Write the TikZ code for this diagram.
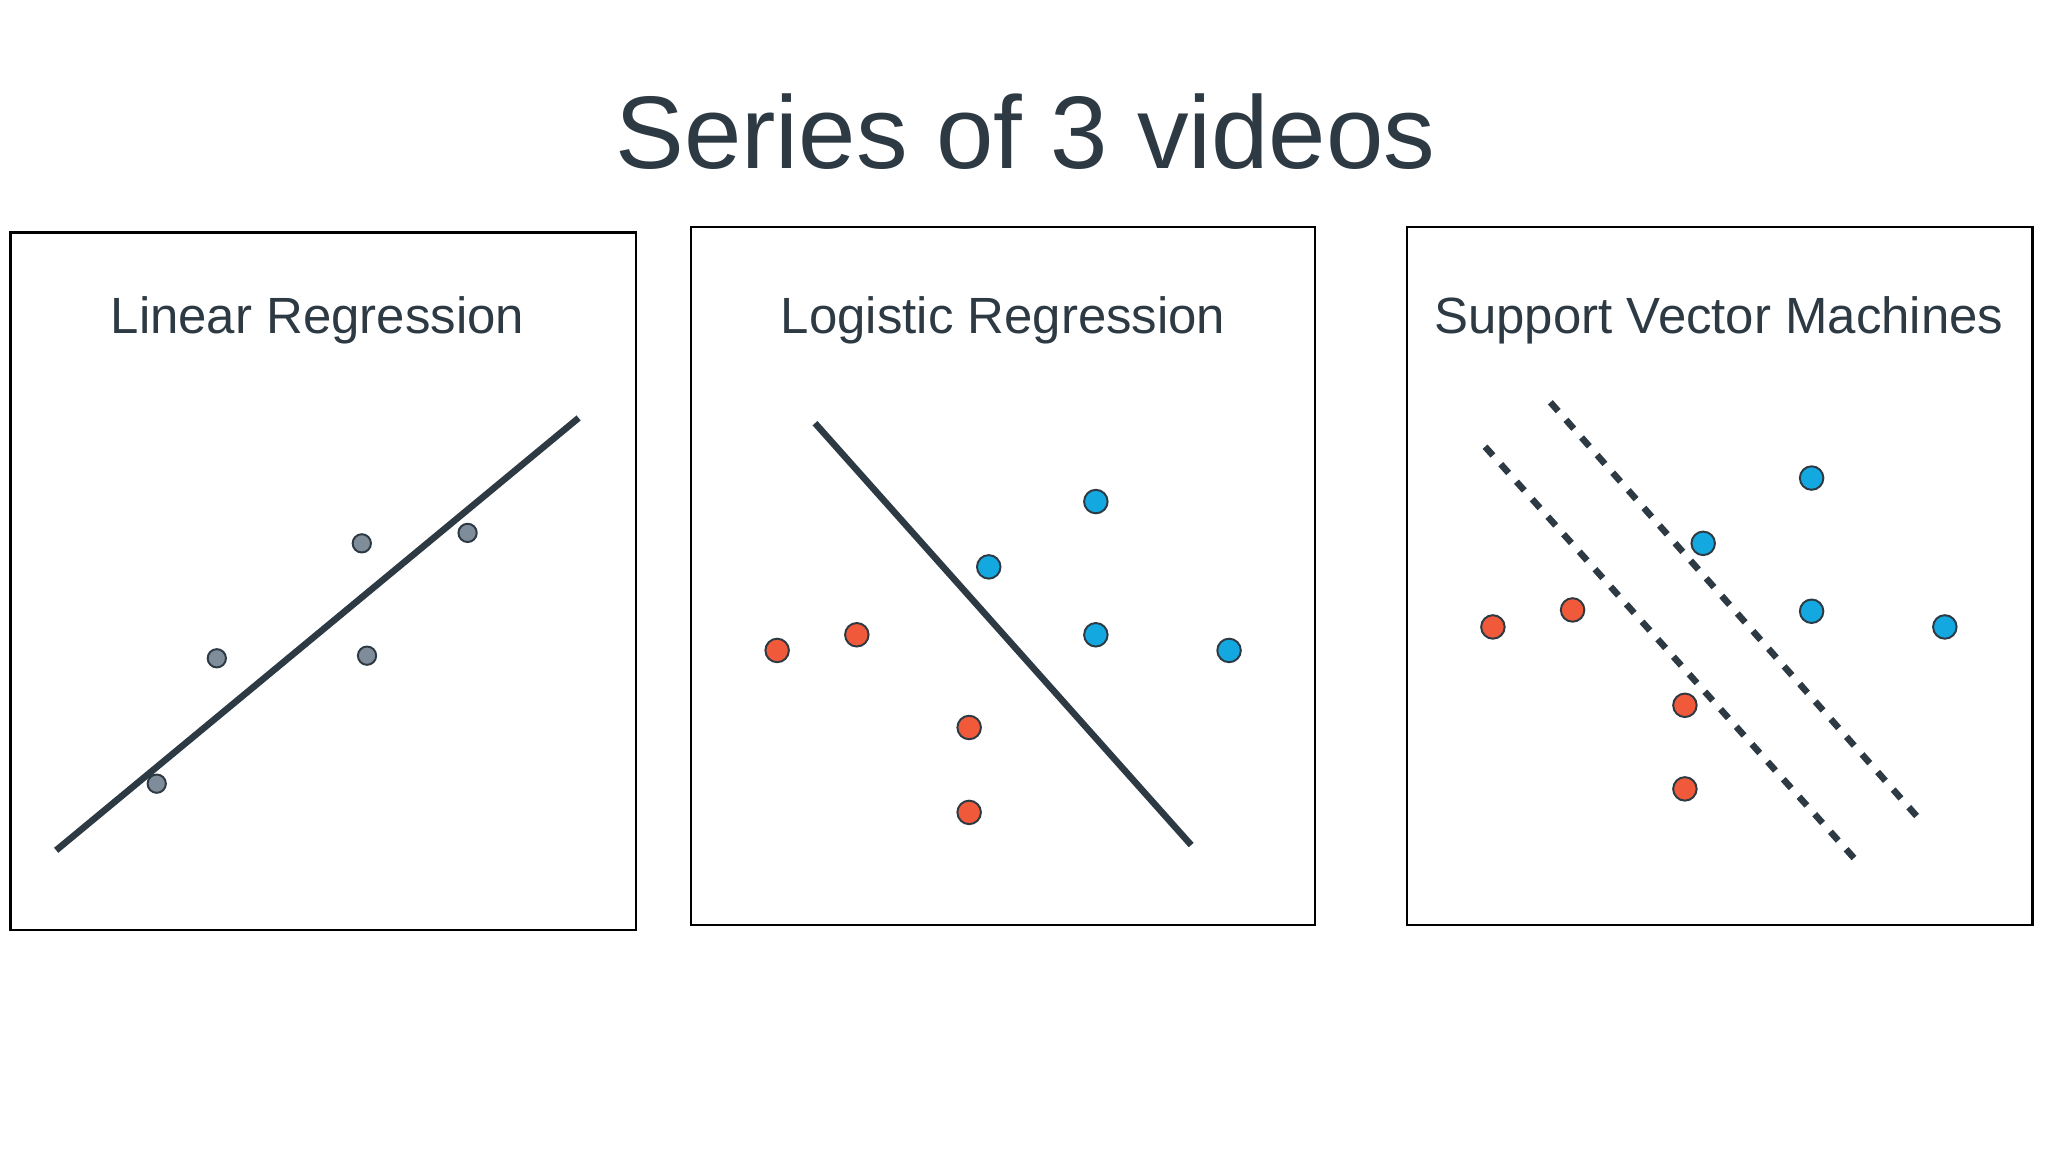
\documentclass[tikz,border=0pt]{standalone}
\usepackage{fontspec}
\setmainfont{Liberation Sans}
\definecolor{ink}{HTML}{2D3A43}
\definecolor{gpt}{HTML}{7F8C99}
\definecolor{rpt}{HTML}{F05A3A}
\definecolor{bpt}{HTML}{13A9E0}
\begin{document}
\begin{tikzpicture}[x=1pt,y=-1pt,
  box/.style={draw=black,line width=1.8pt,fill=white},
  lbl/.style={text=ink,font=\fontsize{39}{44}\selectfont,anchor=center},
  gp/.style={circle,draw=ink,line width=1.5pt,fill=gpt,minimum size=14pt,inner sep=0pt},
  rp/.style={circle,draw=ink,line width=1.5pt,fill=rpt,minimum size=18pt,inner sep=0pt},
  bp/.style={circle,draw=ink,line width=1.5pt,fill=bpt,minimum size=18pt,inner sep=0pt},
  fit/.style={draw=ink,line width=5pt},
  margin/.style={draw=ink,line width=5pt,dash pattern=on 9pt off 9pt}]
\useasboundingbox[fill=white] (0,0) rectangle (1568,882);
\node[text=ink,font=\fontsize{79}{90}\selectfont] (title) at (785,101) {Series of 3 videos};
\draw[box] (8,178) rectangle (487,712);
\draw[box] (529,174) rectangle (1007,708);
\draw[box] (1077,174) rectangle (1556,708);
\node[lbl] (l1) at (243,245) {Linear Regression};
\node[lbl] (l2) at (768,245) {Logistic Regression};
\node[lbl] (l3) at (1316,245) {Support Vector Machines};
% linear
\coordinate (a1) at (43,651); \coordinate (a2) at (443,320);
\draw[fit] (a1) -- (a2);
\foreach \x/\y [count=\i] in {120/600,166/504,277/416,281/502,358/408}
  \node[gp] (g\i) at (\x,\y) {};
% logistic
\coordinate (b1) at (624,324); \coordinate (b2) at (912,647);
\draw[fit] (b1) -- (b2);
\foreach \x/\y [count=\i] in {595/498,656/486,742/557,742/622}
  \node[rp] (r\i) at (\x,\y) {};
\foreach \x/\y [count=\i] in {757/434,839/384,839/486,941/498}
  \node[bp] (bl\i) at (\x,\y) {};
% svm
\coordinate (c1) at (1137,342); \coordinate (c2) at (1424,662);
\coordinate (d1) at (1187,308); \coordinate (d2) at (1472,630);
\draw[margin] (c1) -- (c2);
\draw[margin] (d1) -- (d2);
\foreach \x/\y [count=\i] in {1143/480,1204/467,1290/540,1290/604}
  \node[rp] (sr\i) at (\x,\y) {};
\foreach \x/\y [count=\i] in {1304/416,1387/366,1387/468,1489/480}
  \node[bp] (sb\i) at (\x,\y) {};
\end{tikzpicture}
\end{document}
